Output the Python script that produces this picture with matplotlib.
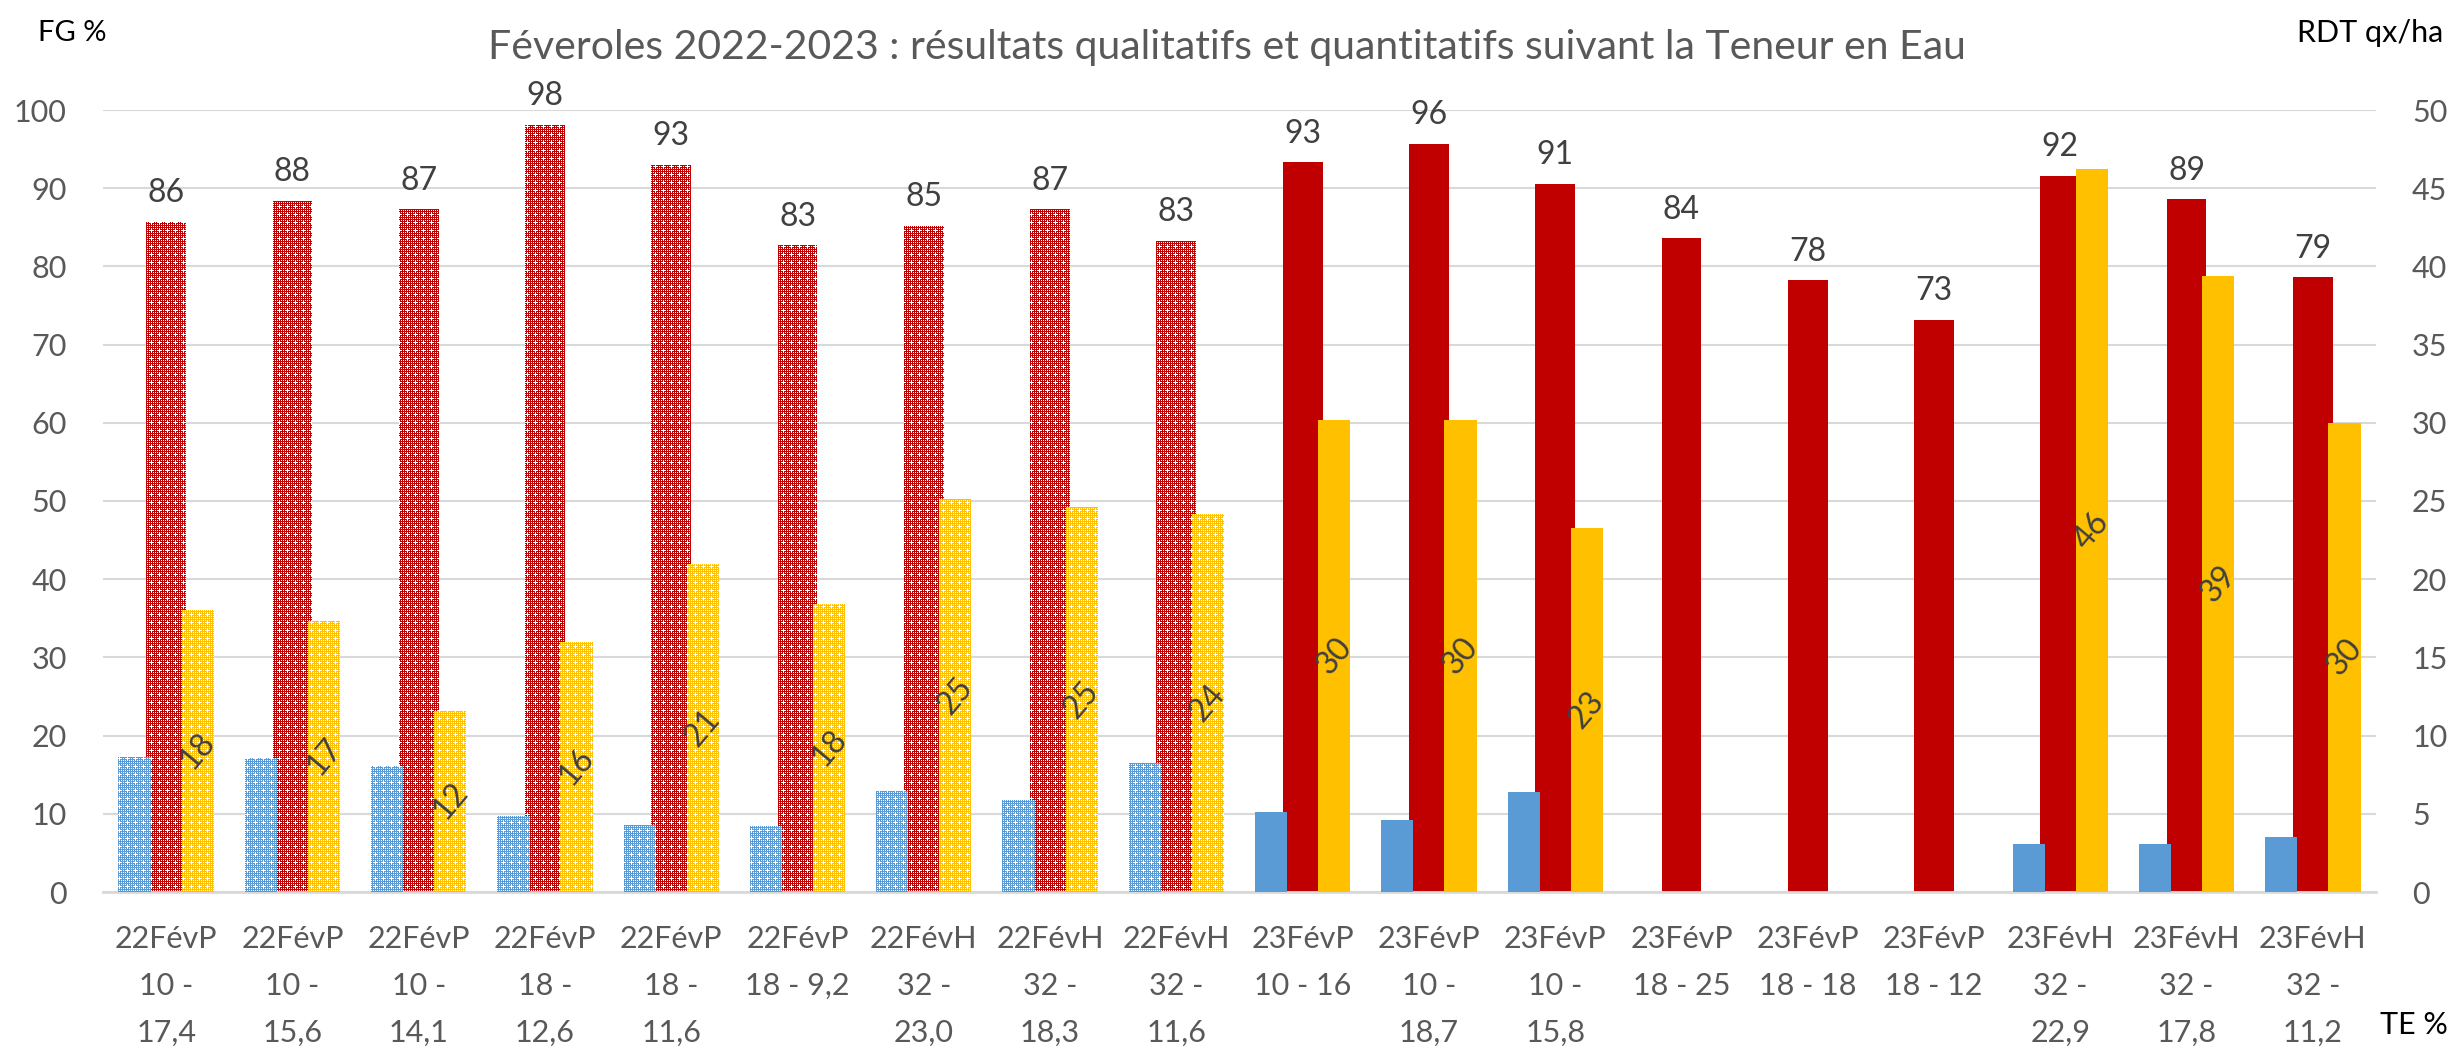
import numpy as np
import matplotlib
matplotlib.use("Agg")
import matplotlib.pyplot as plt
import matplotlib.colors as mcolors
from matplotlib.path import Path

plt.rcParams['font.family'] = ['Lato', 'DejaVu Sans']

# ---------------- data ----------------
categories = [
    "22FévP\n10 -\n17,4", "22FévP\n10 -\n15,6", "22FévP\n10 -\n14,1",
    "22FévP\n18 -\n12,6", "22FévP\n18 -\n11,6", "22FévP\n18 - 9,2",
    "22FévH\n32 -\n23,0", "22FévH\n32 -\n18,3", "22FévH\n32 -\n11,6",
    "23FévP\n10 - 16", "23FévP\n10 -\n18,7", "23FévP\n10 -\n15,8",
    "23FévP\n18 - 25", "23FévP\n18 - 18", "23FévP\n18 - 12",
    "23FévH\n32 -\n22,9", "23FévH\n32 -\n17,8", "23FévH\n32 -\n11,2",
]
year = [2022] * 9 + [2023] * 9
blue_vals = [17.2, 17.1, 16.1, 9.7, 8.6, 8.4, 12.9, 11.8, 16.5,
             10.2, 9.2, 12.8, np.nan, np.nan, np.nan, 6.2, 6.1, 7.0]
fg_vals = [85.7, 88.4, 87.3, 98.1, 93.0, 82.7, 85.2, 87.3, 83.3,
           93.3, 95.7, 90.6, 83.6, 78.2, 73.2, 91.6, 88.6, 78.6]
rdt_vals = [18.0, 17.3, 11.6, 16.0, 21.0, 18.4, 25.1, 24.6, 24.2,
            30.2, 30.2, 23.3, np.nan, np.nan, np.nan, 46.2, 39.4, 30.0]
left_ticks = list(range(0, 101, 10))
right_ticks = list(range(0, 51, 5))

title = "Féveroles 2022-2023 : résultats qualitatifs et quantitatifs suivant la Teneur en Eau"

# ---------------- style ----------------
C_BLUE, C_RED, C_YEL = "#5B9BD5", "#C00000", "#FFC000"
GRID = "#D9D9D9"
TICK = "#595959"
LABEL = "#404040"

W, H, DPI = 2453, 1047, 100
fig = plt.figure(figsize=(W / DPI, H / DPI), dpi=DPI)
axL, axB, axW, axH = 103, 155, 2273, 782
ax = fig.add_axes([axL / W, axB / H, axW / W, axH / H])
ax2 = ax.twinx()

x = np.arange(len(categories))
blue = np.array(blue_vals, float)
fg = np.array(fg_vals, float)
rdt = np.array(rdt_vals, float)
is22 = np.array(year) == 2022

w_side, w_mid, off = 0.255, 0.315, 0.25


def texture(color, h, w):
    rgb = np.array(mcolors.to_rgb(color))
    yy, xx = np.mgrid[0:h, 0:w]
    holes = (xx % 2 == 0) & (yy % 2 == 0)
    mx, my = xx % 8, yy % 8
    white = ((mx == 0) & np.isin(my, [7, 0, 1])) | ((my == 0) & np.isin(mx, [7, 0, 1]))
    img = np.ones((h, w, 3))
    img[~holes & ~white] = rgb
    return img


def draw_series(axis, xs, vals, width, color, z, ylim):
    ok = ~np.isnan(vals)
    m22 = ok & is22
    m23 = ok & ~is22
    axis.bar(xs[m23], vals[m23], width=width, color=color, zorder=z, linewidth=0)
    bc = axis.bar(xs[m22], vals[m22], width=width, facecolor='none', zorder=z, linewidth=0)
    paths = [p.get_path().transformed(p.get_patch_transform()) for p in bc.patches]
    cp = Path.make_compound_path(*paths)
    img = axis.imshow(texture(color, axH, axW), extent=(-0.5, len(xs) - 0.5, ylim[0], ylim[1]),
                      origin='upper', interpolation='nearest', aspect='auto', zorder=z)
    img.set_clip_path(cp, axis.transData)


draw_series(ax, x, fg, w_mid, C_RED, 2, (0, 100))
draw_series(ax, x - off, blue, w_side, C_BLUE, 3, (0, 100))
draw_series(ax2, x + off, rdt, w_side, C_YEL, 2, (0, 50))

ax.set_xlim(-0.5, len(x) - 0.5)
ax.set_ylim(0, 100)
ax2.set_ylim(0, 50)
ax2.set_xlim(-0.5, len(x) - 0.5)

# labels
for xi, v in zip(x, fg):
    ax.annotate(f"{v:.0f}", (xi, v), xytext=(0, 14), textcoords='offset points',
                ha='center', va='baseline', fontsize=23, color=LABEL, zorder=5)
for xi, v in zip(x, rdt):
    if np.isnan(v):
        continue
    ax2.text(xi + off, v / 2, f"{v:.0f}", rotation=50, rotation_mode='anchor',
             ha='center', va='center', fontsize=23, color=LABEL, zorder=5)

# axes styling
ax.set_yticks(left_ticks)
ax2.set_yticks(right_ticks)
ax.set_xticks(x)
ax.set_xticklabels(categories, linespacing=1.82)
ax.grid(axis='y', color=GRID, linewidth=1.5, zorder=0)
ax.set_axisbelow(True)
for s in ['left', 'right', 'top']:
    ax.spines[s].set_visible(False)
    ax2.spines[s].set_visible(False)
ax2.spines['bottom'].set_visible(False)
ax.spines['bottom'].set_color(GRID)
ax.spines['bottom'].set_linewidth(2)
ax.tick_params(axis='both', length=0, colors=TICK, labelsize=22)
ax.tick_params(axis='x', pad=24)
ax.tick_params(axis='y', pad=26)
ax2.tick_params(axis='y', length=0, colors=TICK, labelsize=22, pad=26)
ax2.patch.set_visible(False)

fig.text(0.5, 1 - 47 / H, title, ha='center', va='center', fontsize=29.5, color=TICK)
fig.text(38 / W, 1 - 33 / H, "FG %", ha='left', va='center', fontsize=21, color='black')
fig.text(2443 / W, 1 - 33 / H, "RDT qx/ha", ha='right', va='center', fontsize=22, color='black')
fig.text(2448 / W, 1 - 1025 / H, "TE %", ha='right', va='center', fontsize=22, color='black')

fig.savefig("out.png", dpi=DPI)
